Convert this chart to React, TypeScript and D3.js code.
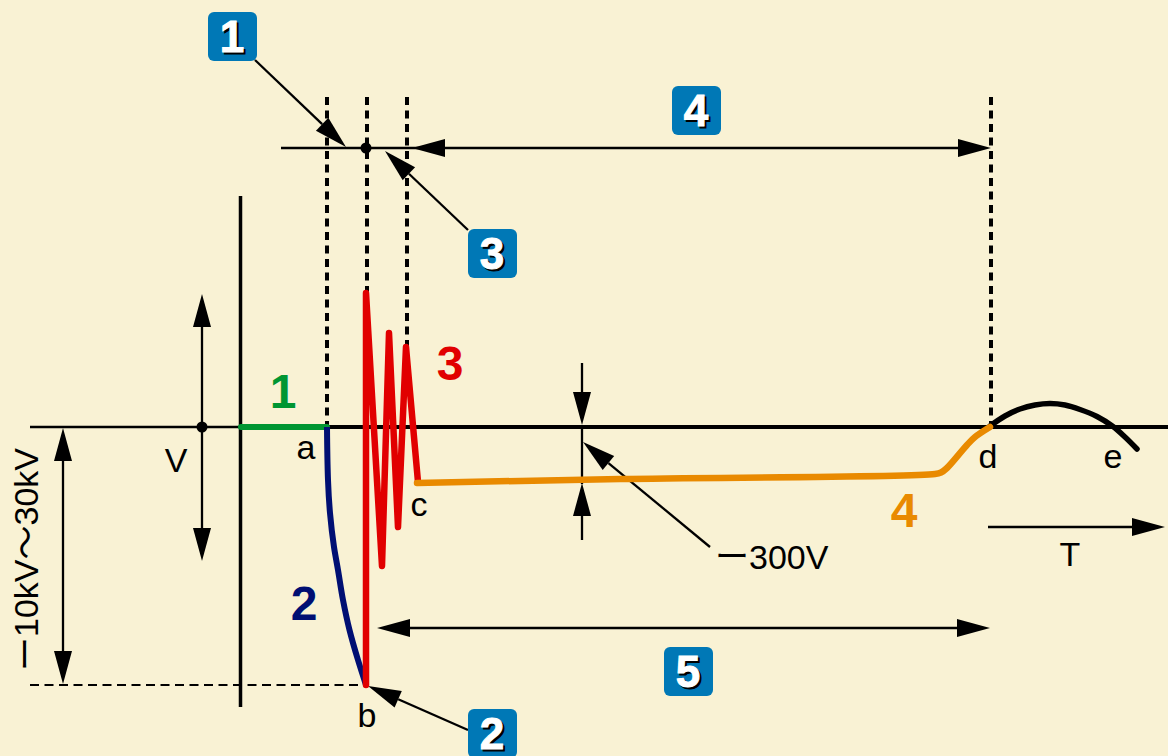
import * as d3 from "d3";

// schematic waveform, t = time units from point a, v = volts-ish units above the 0 line
const settleT = [-86, 0];
const settleV = [0, 0];
const fallT = [0, 1, 3, 7, 11, 16, 22.5, 31, 39];
const fallV = [0, -53, -86, -120, -143, -173, -203, -233, -258];
const ringT = [39, 39, 55, 62, 71, 79, 91];
const ringV = [-258, 134, -139, 94, -100, 80, -55];
const holdT = [90, 293, 608, 614, 620, 640, 648, 663];
const holdV = [-56, -52, -47, -45.5, -41, -18, -10, 0];
const tailT = [663, 678, 693, 708, 723, 738, 753, 770, 786, 798, 810];
const tailV = [1, 11, 18, 22, 23.5, 22, 17.5, 10.5, 0.5, -10, -22];

const width = 1168;
const height = 756;
const FONT = "'Liberation Sans', Arial, 'Noto Sans CJK JP', sans-serif";
const BG = "#f9f2d4";
const BLUE = "#0078b6";
const GREEN = "#009632";
const NAVY = "#000f73";
const RED = "#e10000";
const ORANGE = "#e98a00";

const xScale = d3.scaleLinear().domain([0, 664]).range([327, 991]);
const yScale = d3.scaleLinear().domain([0, -258]).range([427, 685]);

function trace(ts: number[], vs: number[], curve: d3.CurveFactory) {
  const pts = ts.map((t, i) => [t, vs[i]] as [number, number]);
  return d3
    .line<[number, number]>()
    .x((d) => xScale(d[0]))
    .y((d) => yScale(d[1]))
    .curve(curve)(pts) as string;
}

// line from (x1,y1) ending in a solid head whose tip is at (x2,y2)
function Arrow({ x1, y1, x2, y2 }: { x1: number; y1: number; x2: number; y2: number }) {
  const len = 33;
  const half = 9;
  const a = Math.atan2(y2 - y1, x2 - x1);
  const bx = x2 - len * Math.cos(a);
  const by = y2 - len * Math.sin(a);
  const nx = -Math.sin(a) * half;
  const ny = Math.cos(a) * half;
  return (
    <g>
      <line x1={x1} y1={y1} x2={bx} y2={by} stroke="#000" strokeWidth={2.3} />
      <polygon points={`${x2},${y2} ${bx + nx},${by + ny} ${bx - nx},${by - ny}`} fill="#000" />
    </g>
  );
}

function Badge({ x, y, label }: { x: number; y: number; label: string }) {
  const common = {
    x: x + 24,
    y: y + 40,
    textAnchor: "middle" as const,
    fontFamily: FONT,
    fontWeight: 700,
    fontSize: 44,
  };
  return (
    <g>
      <rect x={x} y={y} width={49} height={49} rx={6} fill={BLUE} />
      <text {...common} dx={2} dy={2} fill="#000" stroke="#000" strokeWidth={1}>
        {label}
      </text>
      <text {...common} fill="#fff" stroke="#fff" strokeWidth={1}>
        {label}
      </text>
    </g>
  );
}

function Label({ x, y, text, size = 34 }: { x: number; y: number; text: string; size?: number }) {
  return (
    <text x={x} y={y} textAnchor="middle" fontFamily={FONT} fontSize={size} fill="#000">
      {text}
    </text>
  );
}

function BigNum({ x, y, text, color }: { x: number; y: number; text: string; color: string }) {
  return (
    <text x={x} y={y} textAnchor="middle" fontFamily={FONT} fontWeight={700} fontSize={48} fill={color}>
      {text}
    </text>
  );
}

export default function App() {
  const dashedV = [327, 367, 407, 991];
  const dashedEnd = [427, 293, 347, 427];

  return (
    <svg
      width={width}
      height={height}
      viewBox={`0 0 ${width} ${height}`}
      style={{ position: "absolute", left: 0, top: 0, display: "block", background: BG }}
    >
      {/* guides */}
      {dashedV.map((x, i) => (
        <line key={x} x1={x} x2={x} y1={97} y2={dashedEnd[i]} stroke="#000" strokeWidth={4} strokeDasharray="8 5.5" />
      ))}
      <line x1={30} x2={366} y1={685} y2={685} stroke="#000" strokeWidth={2} strokeDasharray="9 5.5" />

      {/* axes */}
      <line x1={30} x2={241} y1={427} y2={427} stroke="#000" strokeWidth={2.3} />
      <line x1={241} x2={1168} y1={427} y2={427} stroke="#000" strokeWidth={4} />
      <line x1={240.5} x2={240.5} y1={196} y2={707} stroke="#000" strokeWidth={3.5} />

      {/* dimension lines */}
      <line x1={281} x2={430} y1={148} y2={148} stroke="#000" strokeWidth={2.3} />
      <circle cx={366} cy={148} r={5.5} fill="#000" />
      <Arrow x1={700} y1={148} x2={412} y2={148} />
      <Arrow x1={700} y1={148} x2={991} y2={148} />
      <Arrow x1={255} y1={60} x2={346} y2={147} />
      <Arrow x1={468} y1={230} x2={385} y2={151} />

      <Arrow x1={202} y1={427} x2={202} y2={294} />
      <Arrow x1={202} y1={427} x2={202} y2={561} />
      <circle cx={202} cy={427} r={5.5} fill="#000" />
      <Arrow x1={63} y1={560} x2={63} y2={428} />
      <Arrow x1={63} y1={560} x2={63} y2={684} />

      <Arrow x1={582} y1={363} x2={582} y2={425} />
      <Arrow x1={582} y1={540} x2={582} y2={483} />
      <line x1={582} x2={582} y1={425} y2={484} stroke="#000" strokeWidth={2.3} />
      <Arrow x1={710} y1={547} x2={583} y2={442} />

      <Arrow x1={680} y1={628} x2={377} y2={628} />
      <Arrow x1={680} y1={628} x2={990} y2={628} />
      <Arrow x1={988} y1={527} x2={1165} y2={527} />
      <Arrow x1={468} y1={730} x2={368} y2={686} />

      {/* waveform */}
      <path d={trace(tailT, tailV, d3.curveCatmullRom)} fill="none" stroke="#000" strokeWidth={5.5} strokeLinecap="round" />
      <path d={trace(settleT, settleV, d3.curveLinear)} fill="none" stroke={GREEN} strokeWidth={6} strokeLinecap="round" />
      <path d={trace(fallT, fallV, d3.curveMonotoneY)} fill="none" stroke={NAVY} strokeWidth={6} />
      <path d={trace(ringT, ringV, d3.curveLinear)} fill="none" stroke={RED} strokeWidth={6.5} strokeLinecap="round" strokeLinejoin="round" />
      <path d={trace(holdT, holdV, d3.curveCatmullRom)} fill="none" stroke={ORANGE} strokeWidth={6.5} strokeLinecap="round" />

      {/* text */}
      <Label x={306} y={459} text="a" />
      <Label x={367} y={727} text="b" />
      <Label x={419} y={516} text="c" />
      <Label x={988} y={468} text="d" />
      <Label x={1113} y={468} text="e" />
      <Label x={1070} y={566} text="T" />
      <Label x={176} y={472} text="V" />
      <text x={715} y={569} fontFamily={FONT} fontSize={34} fill="#000">
        ー300V
      </text>
      <text
        transform="translate(38,671) rotate(-90)"
        fontFamily={FONT}
        fontSize={34}
        fill="#000"
      >
        ー10kV～30kV
      </text>

      <BigNum x={283} y={408} text="1" color={GREEN} />
      <BigNum x={450} y={380} text="3" color={RED} />
      <BigNum x={304} y={620} text="2" color={NAVY} />
      <BigNum x={904} y={527} text="4" color={ORANGE} />

      <Badge x={208} y={12} label="1" />
      <Badge x={468} y={229} label="3" />
      <Badge x={672} y={86} label="4" />
      <Badge x={468} y={709} label="2" />
      <Badge x={664} y={647} label="5" />
    </svg>
  );
}
